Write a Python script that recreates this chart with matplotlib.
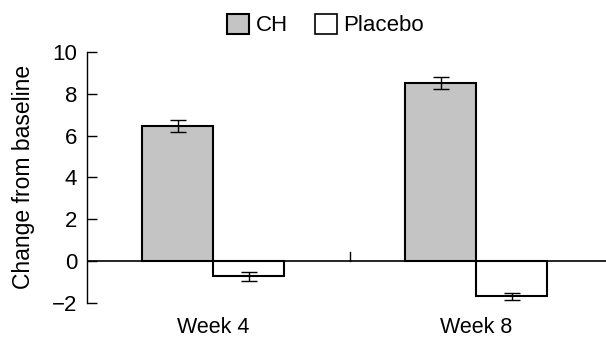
import numpy as np
import matplotlib.pyplot as plt
from matplotlib.patches import Patch

plt.rcParams['font.family'] = ['Liberation Sans', 'DejaVu Sans']

# Data
weeks = ['Week 4', 'Week 8']
ch_mean = [6.45, 8.52]
ch_err = [0.28, 0.27]
placebo_mean = [-0.72, -1.68]
placebo_err = [0.22, 0.17]

x = np.arange(len(weeks))
w = 0.27

fig = plt.figure(figsize=(6.06, 3.37), dpi=100)
ax = fig.add_axes([0.1436, 0.101, 0.8564, 0.745])

ax.bar(x - w/2, ch_mean, w, color='#c4c4c4', edgecolor='black', linewidth=1.5, zorder=2)
ax.bar(x + w/2, placebo_mean, w, color='white', edgecolor='black', linewidth=1.5, zorder=2)
ax.errorbar(x - w/2, ch_mean, yerr=ch_err, fmt='none', ecolor='black',
            elinewidth=1, capsize=5.6, capthick=1, zorder=3)
ax.errorbar(x + w/2, placebo_mean, yerr=placebo_err, fmt='none', ecolor='black',
            elinewidth=1, capsize=5.6, capthick=1, zorder=3)

# zero line and the small separator tick between groups
ax.axhline(0, color='black', linewidth=1.2, zorder=1)
ax.plot([0.52, 0.52], [0, 0.45], color='black', linewidth=1)

ax.set_xlim(-0.479, 1.494)
ax.set_ylim(-2, 10)
ax.set_yticks([-2, 0, 2, 4, 6, 8, 10])
ax.set_yticklabels(['\u22122', '0', '2', '4', '6', '8', '10'])
ax.tick_params(axis='y', direction='in', length=7, width=1, labelsize=16, pad=7)
ax.set_xticks(x)
ax.set_xticklabels(weeks)
ax.tick_params(axis='x', length=0, labelsize=15.5, pad=10)

for s in ['top', 'right', 'bottom']:
    ax.spines[s].set_visible(False)
ax.spines['left'].set_linewidth(1)

ax.set_ylabel('Change from baseline', fontsize=16.5, labelpad=12)

handles = [Patch(facecolor='#c4c4c4', edgecolor='black', linewidth=1.5, label='CH'),
           Patch(facecolor='white', edgecolor='black', linewidth=1.2, label='Placebo')]
fig.legend(handles=handles, loc='center', bbox_to_anchor=(0.537, 0.926), ncol=2,
           frameon=False, fontsize=16, handlelength=1.0, handleheight=1.0,
           handletextpad=0.3, columnspacing=1.2, borderpad=0)

fig.savefig('out.png', dpi=100)
